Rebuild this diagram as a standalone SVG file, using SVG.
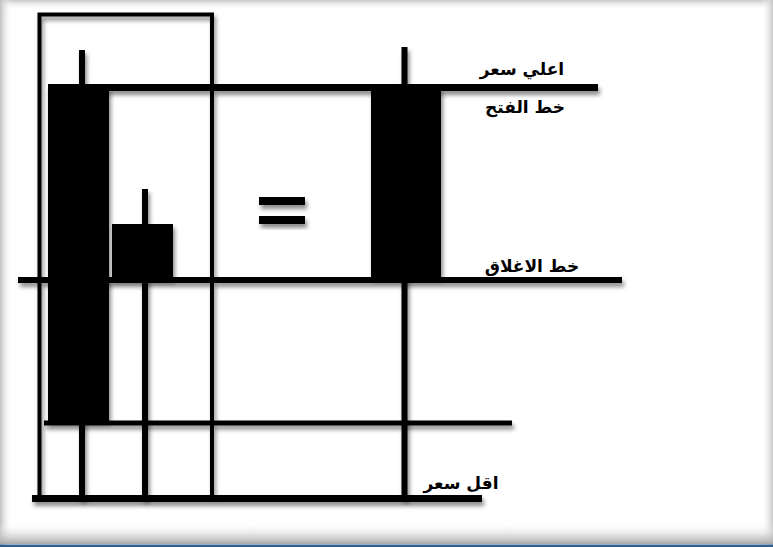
<svg xmlns="http://www.w3.org/2000/svg" width="773" height="547" viewBox="0 0 773 547">
<defs>
<filter id="sh" x="-10%" y="-10%" width="130%" height="130%">
<feDropShadow dx="2" dy="4" stdDeviation="2" flood-color="#000" flood-opacity="0.45"/>
</filter>
<linearGradient id="gt" x1="0" y1="0" x2="0" y2="1"><stop offset="0" stop-color="#c8c8c8"/><stop offset="1" stop-color="#fff" stop-opacity="0"/></linearGradient>
<linearGradient id="gb" x1="0" y1="1" x2="0" y2="0"><stop offset="0" stop-color="#a8a8a8"/><stop offset="1" stop-color="#fff" stop-opacity="0"/></linearGradient>
<linearGradient id="gl" x1="0" y1="0" x2="1" y2="0"><stop offset="0" stop-color="#c0c0c0"/><stop offset="1" stop-color="#fff" stop-opacity="0"/></linearGradient>
<linearGradient id="gr" x1="1" y1="0" x2="0" y2="0"><stop offset="0" stop-color="#c8c8c8"/><stop offset="1" stop-color="#fff" stop-opacity="0"/></linearGradient>
</defs>
<style>
.ln{stroke:#000;fill:none}
.lbl{font-family:"DejaVu Sans",sans-serif;font-weight:bold;font-size:17px;fill:#000;text-anchor:middle}
</style>
<g id="background">
<rect x="0" y="0" width="773" height="547" fill="#fff"/>
<rect x="0" y="0" width="773" height="10" fill="url(#gt)"/>
<rect x="0" y="0" width="12" height="547" fill="url(#gl)"/>
<rect x="761" y="0" width="12" height="547" fill="url(#gr)"/>
<rect x="0" y="522" width="773" height="22" fill="url(#gb)"/>
<rect x="0" y="544.5" width="773" height="2.5" fill="#2f5f8f"/>
</g>
<g id="connectors" filter="url(#sh)">
<path class="ln" stroke-width="4" d="M39.5,499 V14.5 H212 V499"/>
<line class="ln" stroke-width="7" x1="48" y1="87.5" x2="598" y2="87.5"/>
<line class="ln" stroke-width="6" x1="18" y1="280" x2="622" y2="280"/>
<line class="ln" stroke-width="5" x1="44" y1="423" x2="512" y2="423"/>
<line class="ln" stroke-width="7" x1="32" y1="498.5" x2="482" y2="498.5"/>
</g>
<g id="candle-big" filter="url(#sh)">
<line class="ln" stroke-width="6" x1="82" y1="50" x2="82" y2="499"/>
<rect x="48" y="88" width="61" height="333" fill="#000"/>
</g>
<g id="candle-small" filter="url(#sh)">
<line class="ln" stroke-width="6" x1="145" y1="189" x2="145" y2="499"/>
<rect x="112" y="224" width="61" height="55" fill="#000"/>
</g>
<g id="candle-result" filter="url(#sh)">
<line class="ln" stroke-width="6" x1="404.5" y1="47" x2="404.5" y2="499"/>
<rect x="371" y="88" width="70" height="190" fill="#000"/>
</g>
<g id="equals" filter="url(#sh)">
<rect x="259" y="197" width="46" height="8" fill="#000"/>
<rect x="259" y="216" width="46" height="8" fill="#000"/>
</g>
<g id="labels">
<text class="lbl" x="522" y="75">اعلي سعر</text>
<text class="lbl" x="525" y="113">خط الفتح</text>
<text class="lbl" x="532" y="272">خط الاغلاق</text>
<text class="lbl" x="461" y="489">اقل سعر</text>
</g>
</svg>
